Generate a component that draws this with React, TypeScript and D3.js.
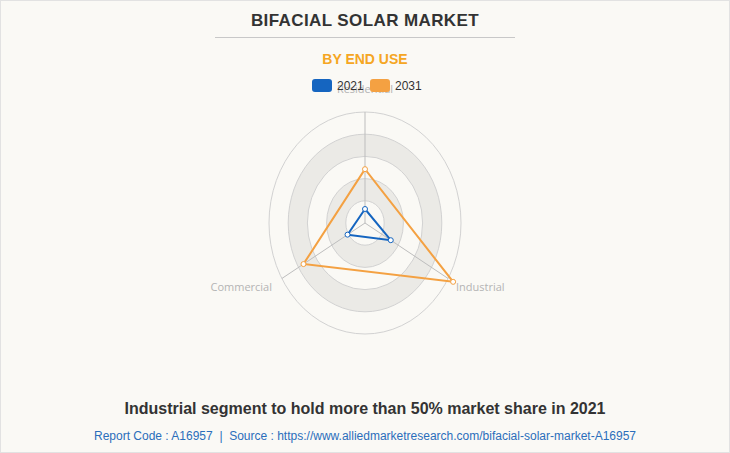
import React, { useEffect, useRef } from 'react';
import * as d3 from 'd3';

const categories = ['Residential', 'Commercial', 'Industrial'];
const years = ['2021', '2031'];
const values2021 = [1.26, 2.1, 3.1];
const values2031 = [4.85, 7.4, 10.6];
const axisMax = 10;
const splitCount = 5;

const COLORS = ['#1565c0', '#f4a142'];

const App: React.FC = () => {
  const svgRef = useRef<SVGSVGElement>(null);

  useEffect(() => {
    document.body.style.margin = '0';
    if (!svgRef.current) return;
    const W = 730, H = 453;
    const svg = d3.select(svgRef.current);
    svg.selectAll('*').remove();

    svg.append('rect')
      .attr('x', 0.5).attr('y', 0.5)
      .attr('width', W - 1).attr('height', H - 1)
      .attr('fill', '#faf9f5')
      .attr('stroke', '#e2e2e2');

    // Title block
    svg.append('text')
      .attr('x', 365).attr('y', 26)
      .attr('text-anchor', 'middle')
      .attr('font-family', 'Liberation Sans, Arial, sans-serif')
      .attr('font-weight', 'bold')
      .attr('font-size', 17)
      .attr('letter-spacing', 0.4)
      .attr('fill', '#333')
      .text('BIFACIAL SOLAR MARKET');

    svg.append('line')
      .attr('x1', 215).attr('x2', 515)
      .attr('y1', 37.5).attr('y2', 37.5)
      .attr('stroke', '#c8c8c8');

    svg.append('text')
      .attr('x', 365).attr('y', 64)
      .attr('text-anchor', 'middle')
      .attr('font-family', 'Liberation Sans, Arial, sans-serif')
      .attr('font-weight', 'bold')
      .attr('font-size', 14)
      .attr('fill', '#f5a623')
      .text('BY END USE');

    // Radar
    const cx = 365, cy = 223;
    const rX = d3.scaleLinear().domain([0, axisMax]).range([0, 96]);
    const rY = d3.scaleLinear().domain([0, axisMax]).range([0, 111]);
    const angle = d3.scaleLinear()
      .domain([0, categories.length])
      .range([Math.PI / 2, Math.PI / 2 + 2 * Math.PI]);

    const px = (i: number, v: number) => cx + rX(v) * Math.cos(angle(i));
    const py = (i: number, v: number) => cy - rY(v) * Math.sin(angle(i));

    const g = svg.append('g');
    const steps = d3.range(splitCount, 0, -1).map(k => (k * axisMax) / splitCount);

    // split areas (alternating), drawn outer to inner
    steps.forEach((v, idx) => {
      const k = splitCount - idx; // ring number 5..1
      g.append('ellipse')
        .attr('cx', cx).attr('cy', cy)
        .attr('rx', rX(v)).attr('ry', rY(v))
        .attr('fill', k % 2 === 0 ? '#ebeae6' : '#faf9f5');
    });
    steps.forEach(v => {
      g.append('ellipse')
        .attr('cx', cx).attr('cy', cy)
        .attr('rx', rX(v)).attr('ry', rY(v))
        .attr('fill', 'none')
        .attr('stroke', '#d2d2d2')
        .attr('stroke-width', 1);
    });

    categories.forEach((c, i) => {
      g.append('line')
        .attr('x1', cx).attr('y1', cy)
        .attr('x2', px(i, axisMax)).attr('y2', py(i, axisMax))
        .attr('stroke', '#bdbdbd');
    });

    const labelPos = [
      { x: 365, y: 93, anchor: 'middle' },
      { x: 272, y: 291, anchor: 'end' },
      { x: 456, y: 291, anchor: 'start' },
    ];
    categories.forEach((c, i) => {
      g.append('text')
        .attr('x', labelPos[i].x).attr('y', labelPos[i].y)
        .attr('text-anchor', labelPos[i].anchor)
        .attr('font-family', 'Open Sans, sans-serif')
        .attr('font-size', 11)
        .attr('fill', '#b4b4b4')
        .text(c);
    });

    const series = [values2021, values2031];
    series.forEach((vals, s) => {
      const pts: [number, number][] = vals.map((v, i) => [px(i, v), py(i, v)]);
      g.append('path')
        .attr('d', d3.line().curve(d3.curveLinearClosed)(pts))
        .attr('fill', 'none')
        .attr('stroke', COLORS[s])
        .attr('stroke-width', 2);
      g.selectAll(null)
        .data(pts)
        .enter().append('circle')
        .attr('cx', d => d[0]).attr('cy', d => d[1])
        .attr('r', 2.5)
        .attr('fill', '#fff')
        .attr('stroke', COLORS[s])
        .attr('stroke-width', 1);
    });

    // Legend
    const legendX = [312, 370];
    years.forEach((y, i) => {
      svg.append('rect')
        .attr('x', legendX[i]).attr('y', 79)
        .attr('width', 20).attr('height', 13)
        .attr('rx', 3)
        .attr('fill', COLORS[i]);
      svg.append('text')
        .attr('x', legendX[i] + 25).attr('y', 89.5)
        .attr('font-family', 'Liberation Sans, Arial, sans-serif')
        .attr('font-size', 12)
        .attr('fill', '#333')
        .text(y);
    });

    // Footer
    svg.append('text')
      .attr('x', 365).attr('y', 414)
      .attr('text-anchor', 'middle')
      .attr('font-family', 'Liberation Sans, Arial, sans-serif')
      .attr('font-weight', 'bold')
      .attr('font-size', 16)
      .attr('fill', '#333')
      .text('Industrial segment to hold more than 50% market share in 2021');

    svg.append('text')
      .attr('x', 365).attr('y', 440)
      .attr('text-anchor', 'middle')
      .attr('font-family', 'Liberation Sans, Arial, sans-serif')
      .attr('font-size', 12)
      .attr('fill', '#2a6ebb')
      .attr('xml:space', 'preserve')
      .text('Report Code : A16957  |  Source : https://www.alliedmarketresearch.com/bifacial-solar-market-A16957');
  }, []);

  return (
    <div style={{ width: 730, height: 453 }}>
      <svg ref={svgRef} width={730} height={453} style={{ display: 'block' }}></svg>
    </div>
  );
};

export default App;
